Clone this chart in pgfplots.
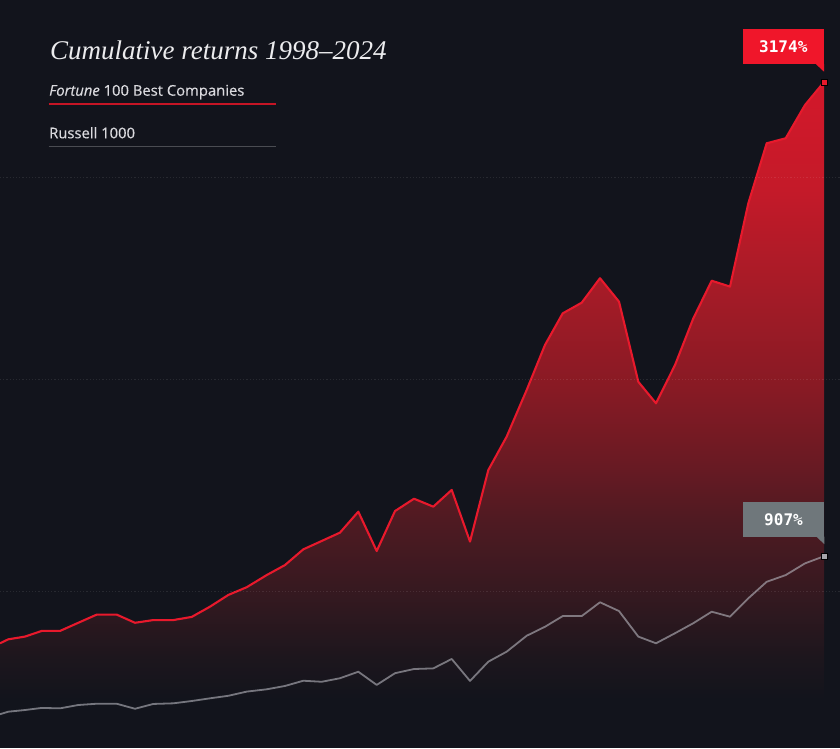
\documentclass[border=0pt]{standalone}
\usepackage{pgfplots}
\pgfplotsset{compat=1.18}
\usepackage{pgfplotstable}
\usepackage{fontspec}
\newfontfamily\leg{Open Sans}[FakeBold=0.35]
\newfontfamily\mono{DejaVu Sans Mono}
\newfontfamily\ttl{Liberation Serif}
\definecolor{bgc}{HTML}{12141C}
\definecolor{redline}{HTML}{E8192C}
\definecolor{redbox}{HTML}{F0162A}
\definecolor{greybox}{HTML}{6F777B}
\definecolor{greymark}{HTML}{A5A5AA}
\definecolor{greyline}{HTML}{B8B8C0}
\definecolor{titlec}{HTML}{ECECEE}
\definecolor{legc}{HTML}{DADADE}
\definecolor{g0}{HTML}{D3182A}
\definecolor{g1}{HTML}{C41A29}
\definecolor{g2}{HTML}{A51B27}
\definecolor{g3}{HTML}{871A24}
\definecolor{g4}{HTML}{6C1A23}
\definecolor{g5}{HTML}{4E1A22}
\definecolor{g6}{HTML}{361920}
\definecolor{g7}{HTML}{1D161D}
\pgfdeclareverticalshading{redfade}{100bp}{color(0bp)=(bgc); color(25bp)=(bgc); color(28.5bp)=(bgc); color(31.7bp)=(g7); color(36.7bp)=(g6); color(41.8bp)=(g5); color(46.75bp)=(g4); color(51.8bp)=(g3); color(59.3bp)=(g2); color(66.85bp)=(g1); color(75bp)=(g0); color(100bp)=(g0)}

\pgfplotstableread{
x r g
0 491 152
8.3 510 164
25 523 172
41.7 550 182
60 550 180
78.3 589 196
96.7 628 202
116.7 628 202
135 589 178
153.3 602 201
173.3 602 204
191.7 617 215
210 666 228
228.3 722 240
246.7 759 260
266.7 817 271
285 865 287
303.3 940 312
321.7 980 307
340 1020 324
358.3 1120 355
376.7 932 292
395 1123 348
414 1182 368
433.3 1144 371
451.7 1224 416
470 977 311
488.3 1319 403
506.7 1479 451
526.7 1702 527
545 1917 570
562.7 2068 621
581.7 2119 621
600 2236 687
619 2124 645
638.3 1741 523
656 1638 491
675 1821 539
693.3 2044 587
711.7 2224 642
730 2196 618
748.3 2594 706
766.7 2881 785
785.7 2905 817
805 3064 873
824 3174 907
}\returns

\begin{document}
\begin{tikzpicture}
\begin{axis}[
  width=840pt, height=748pt, scale only axis,
  xmin=0, xmax=840, ymin=-9.56, ymax=3565.88,
  axis line style={draw=none},
  axis background/.style={fill=bgc},
  xtick=\empty,
  ytick={741,1754,2720}, yticklabels={},
  major tick length=0pt,
  ymajorgrids,
  grid style={white, opacity=0.09, line width=0.8pt, dash pattern=on 1.2pt off 2pt},
  axis on top,
  clip=true,
]
\addplot[draw=none, shade, shading=redfade] table[x=x, y=r] {\returns} \closedcycle;
\addplot[greyline, opacity=0.6, line width=1.8pt, line join=round, mark=none] table[x=x, y=g] {\returns};
\addplot[redline, line width=2.1pt, line join=round, mark=none] table[x=x, y=r] {\returns};
\addplot[only marks, mark=square*, mark size=3pt, mark options={fill=redline, draw=none}] coordinates {(824,3174)};
\addplot[only marks, mark=square*, mark size=3pt, mark options={fill=greymark, draw=none}] coordinates {(824,907)};
\end{axis}
% labels (picture units: 1pt = 1px, y measured from bottom)
\fill[redbox] (742.7pt,718.7pt) rectangle (824pt,683.7pt);
\fill[redbox] (816pt,683.8pt) -- (824pt,683.8pt) -- (824pt,676.3pt) -- cycle;
\node[text=white, font=\mono\bfseries\fontsize{16}{16}\selectfont] at (783.3pt,701.2pt) {3174\%};
\fill[greybox] (742.7pt,246pt) rectangle (824.3pt,211.3pt);
\fill[greybox] (816.3pt,211.4pt) -- (824.3pt,211.4pt) -- (824.3pt,203.9pt) -- cycle;
\node[text=white, font=\mono\bfseries\fontsize{16}{16}\selectfont] at (783.5pt,228.7pt) {907\%};
% title and legend
\node[anchor=base west, inner sep=0pt, text=titlec, font=\ttl\itshape\fontsize{27}{30}\selectfont] at (50pt,688pt) {Cumulative returns 1998–2024};
\node[anchor=base west, inner sep=0pt, text=legc, font=\leg\fontsize{14.8}{16}\selectfont] at (49pt,652.3pt) {\textit{Fortune} 100 Best Companies};
\draw[redline!85!black, line width=1.6pt] (48.5pt,643.7pt) -- (276pt,643.7pt);
\node[anchor=base west, inner sep=0pt, text=legc, font=\leg\fontsize{14.8}{16}\selectfont] at (49pt,609.7pt) {Russell 1000};
\draw[color={rgb,255:red,74;green,76;blue,82}, line width=1.6pt] (48.5pt,601.3pt) -- (276pt,601.3pt);
\pgfresetboundingbox
\useasboundingbox (0pt,0pt) rectangle (840pt,748pt);
\end{tikzpicture}
\end{document}
